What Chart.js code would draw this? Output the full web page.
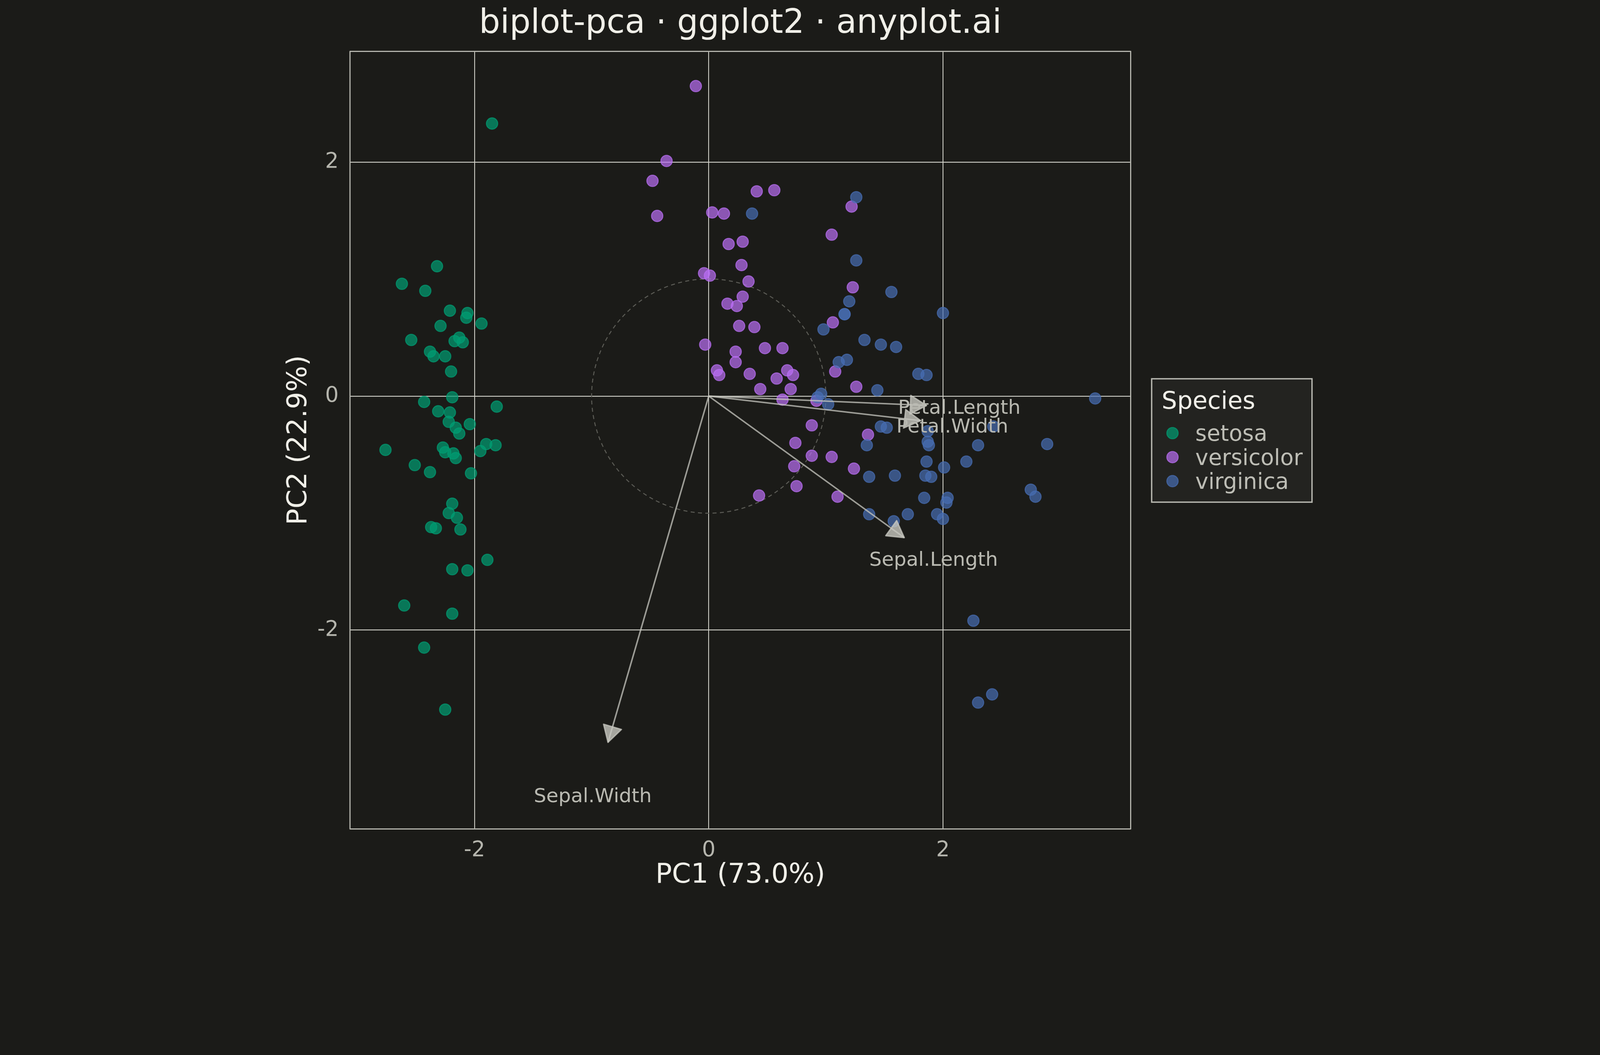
<!DOCTYPE html>
<html>
<head>
<meta charset="utf-8">
<title>biplot-pca</title>
<script src="https://cdn.jsdelivr.net/npm/chart.js@4.4.1/dist/chart.umd.min.js"></script>
<style>
  html, body { margin: 0; padding: 0; background: #1b1b18; width: 100vw; height: 100vh; overflow: hidden; }
  canvas { display: block; }
</style>
</head>
<body>
<canvas id="biplot"></canvas>
<script>
//#####################
// Data
//#####################
const species = ['setosa', 'versicolor', 'virginica'];

const setosaPC1 = [-1.85, -2.32, -2.62, -2.42, -2.21, -2.06, -2.07, -1.94, -2.29, -2.54,
  -2.13, -2.17, -2.10, -2.38, -2.35, -2.25, -2.20, -2.19, -2.43, -1.81,
  -2.31, -2.21, -2.22, -2.16, -2.04, -2.13, -2.76, -2.27, -2.25, -2.18,
  -2.16, -1.90, -1.82, -1.95, -2.51, -2.38, -2.03, -2.19, -2.22, -2.15,
  -2.37, -2.33, -2.12, -1.89, -2.19, -2.06, -2.60, -2.19, -2.43, -2.25];
const setosaPC2 = [2.33, 1.11, 0.96, 0.90, 0.73, 0.71, 0.67, 0.62, 0.60, 0.48,
  0.50, 0.47, 0.46, 0.38, 0.34, 0.34, 0.21, -0.01, -0.05, -0.09,
  -0.13, -0.14, -0.22, -0.27, -0.24, -0.32, -0.46, -0.44, -0.48, -0.49,
  -0.53, -0.41, -0.42, -0.47, -0.59, -0.65, -0.66, -0.92, -1.00, -1.04,
  -1.12, -1.13, -1.14, -1.40, -1.48, -1.49, -1.79, -1.86, -2.15, -2.68];

const versicolorPC1 = [-0.11, -0.36, -0.48, -0.44, 0.03, 0.13, 0.41, 0.56, 1.22, 1.05,
  0.17, 0.29, 0.28, -0.04, 0.01, 0.34, 1.23, 0.29, 0.16, 0.24,
  1.06, 0.26, 0.39, -0.03, 0.23, 0.48, 0.63, 0.23, 0.07, 0.09,
  0.35, 0.67, 0.72, 0.58, 0.44, 0.70, 0.63, 1.08, 1.26, 0.92,
  0.88, 1.36, 0.74, 0.88, 1.05, 0.73, 1.24, 0.75, 0.43, 1.10];
const versicolorPC2 = [2.65, 2.01, 1.84, 1.54, 1.57, 1.56, 1.75, 1.76, 1.62, 1.38,
  1.30, 1.32, 1.12, 1.05, 1.03, 0.98, 0.93, 0.85, 0.79, 0.77,
  0.63, 0.60, 0.59, 0.44, 0.38, 0.41, 0.41, 0.29, 0.22, 0.18,
  0.19, 0.22, 0.18, 0.15, 0.06, 0.06, -0.03, 0.21, 0.08, -0.04,
  -0.25, -0.33, -0.40, -0.51, -0.52, -0.60, -0.62, -0.77, -0.85, -0.86];

const virginicaPC1 = [0.37, 1.26, 1.26, 1.20, 1.16, 1.16, 0.98, 1.33, 1.47, 1.11,
  1.18, 1.44, 0.96, 0.93, 1.02, 1.47, 1.35, 1.37, 1.37, 1.56,
  2.00, 1.60, 1.79, 1.86, 1.52, 1.87, 1.87, 1.88, 2.43, 2.30,
  2.89, 1.59, 1.86, 2.01, 2.20, 1.85, 1.90, 2.75, 2.79, 1.84,
  2.04, 2.03, 1.58, 1.70, 1.95, 2.00, 3.30, 2.26, 2.30, 2.42];
const virginicaPC2 = [1.56, 1.70, 1.16, 0.81, 0.70, 0.70, 0.57, 0.48, 0.44, 0.29,
  0.31, 0.05, 0.02, -0.01, -0.07, -0.26, -0.42, -0.69, -1.01, 0.89,
  0.71, 0.42, 0.19, 0.18, -0.27, -0.30, -0.39, -0.42, -0.26, -0.42,
  -0.41, -0.68, -0.56, -0.61, -0.56, -0.68, -0.69, -0.80, -0.86, -0.87,
  -0.87, -0.91, -1.07, -1.01, -1.01, -1.05, -0.02, -1.92, -2.62, -2.55];

// loading arrows: tip and label position
const loadingNames = ['Sepal.Length', 'Sepal.Width', 'Petal.Length', 'Petal.Width'];
const loadingPC1 = [1.67, -0.86, 1.86, 1.81];
const loadingPC2 = [-1.21, -2.96, -0.08, -0.21];
const labelPC1 = [1.92, -0.99, 2.14, 2.08];
const labelPC2 = [-1.39, -3.41, -0.09, -0.25];

const xTicks = [-2, 0, 2];
const yTicks = [-2, 0, 2];

const titleText = 'biplot-pca · ggplot2 · anyplot.ai';
const xTitle = 'PC1 (73.0%)';
const yTitle = 'PC2 (22.9%)';
const legendTitle = 'Species';

//#####################
// Styles (laid out on a 4800x2700 design, scaled to the window)
//#####################
const k = Math.min(window.innerWidth / 4800, window.innerHeight / 2700);
const px = (v) => v * k;

const FONT = "'DejaVu Sans', 'Liberation Sans', sans-serif";
const speciesColors = ['rgba(0,158,115,0.7)', 'rgba(187,111,245,0.7)', 'rgba(71,110,180,0.7)'];
const arrowColor = 'rgba(200,200,192,0.75)';
const circleRadius = 1;

const toPoints = (xs, ys) => xs.map((x, i) => ({x: x, y: ys[i]}));

const pointSets = [
  toPoints(setosaPC1, setosaPC2),
  toPoints(versicolorPC1, versicolorPC2),
  toPoints(virginicaPC1, virginicaPC2)
];

const datasets = [];
// arrows drawn above the points (lower order = on top)
for (let i = 0; i < loadingNames.length; i++) {
  datasets.push({
    label: loadingNames[i],
    data: [{x: 0, y: 0}, {x: loadingPC1[i], y: loadingPC2[i]}],
    showLine: true,
    borderColor: arrowColor,
    borderWidth: px(4.5),
    pointRadius: 0,
    fill: false,
    order: 0
  });
}
for (let i = 0; i < species.length; i++) {
  datasets.push({
    label: species[i],
    data: pointSets[i],
    backgroundColor: speciesColors[i],
    borderColor: speciesColors[i],
    borderWidth: px(3),
    pointRadius: px(17),
    order: species.length - i
  });
}

//#####################
// Plugins
//#####################
const dashedCircle = {
  id: 'dashedCircle',
  beforeDatasetsDraw(chart) {
    const {ctx, scales: {x, y}} = chart;
    const cx = x.getPixelForValue(0);
    const cy = y.getPixelForValue(0);
    const r = x.getPixelForValue(circleRadius) - cx;
    ctx.save();
    ctx.strokeStyle = '#5b5b55';
    ctx.lineWidth = px(3);
    ctx.setLineDash([px(12), px(10)]);
    ctx.beginPath();
    ctx.arc(cx, cy, r, 0, Math.PI * 2);
    ctx.stroke();
    ctx.restore();
  }
};

const arrowExtras = {
  id: 'arrowExtras',
  afterDatasetsDraw(chart) {
    const {ctx, chartArea, scales: {x, y}} = chart;
    const ox = x.getPixelForValue(0);
    const oy = y.getPixelForValue(0);
    const side = px(56);
    const half = Math.PI / 6;
    ctx.save();
    for (let i = 0; i < loadingNames.length; i++) {
      const tx = x.getPixelForValue(loadingPC1[i]);
      const ty = y.getPixelForValue(loadingPC2[i]);
      const ang = Math.atan2(ty - oy, tx - ox);
      ctx.beginPath();
      ctx.moveTo(tx, ty);
      ctx.lineTo(tx - side * Math.cos(ang - half), ty - side * Math.sin(ang - half));
      ctx.lineTo(tx - side * Math.cos(ang + half), ty - side * Math.sin(ang + half));
      ctx.closePath();
      ctx.fillStyle = 'rgba(200,200,192,0.8)';
      ctx.strokeStyle = arrowColor;
      ctx.lineWidth = px(4);
      ctx.lineJoin = 'round';
      ctx.fill();
      ctx.stroke();
    }
    ctx.fillStyle = '#b9b9b1';
    ctx.font = px(59) + 'px ' + FONT;
    ctx.textAlign = 'center';
    ctx.textBaseline = 'middle';
    for (let i = 0; i < loadingNames.length; i++) {
      ctx.fillText(loadingNames[i], x.getPixelForValue(labelPC1[i]), y.getPixelForValue(labelPC2[i]) + px(6));
    }
    // panel border
    ctx.strokeStyle = '#b4b4ac';
    ctx.lineWidth = px(3.5);
    ctx.strokeRect(chartArea.left, chartArea.top, chartArea.right - chartArea.left, chartArea.bottom - chartArea.top);
    ctx.restore();
  }
};

const speciesLegend = {
  id: 'speciesLegend',
  afterDraw(chart) {
    const ctx = chart.ctx;
    const bx = px(3453), by = px(1134), bw = px(485), bh = px(374);
    ctx.save();
    ctx.fillStyle = '#232320';
    ctx.fillRect(bx, by, bw, bh);
    ctx.strokeStyle = '#b8b8b0';
    ctx.lineWidth = px(4);
    ctx.strokeRect(bx + px(2), by + px(2), bw - px(4), bh - px(4));
    ctx.textBaseline = 'alphabetic';
    ctx.textAlign = 'left';
    ctx.fillStyle = '#f0efe8';
    ctx.font = px(73) + 'px ' + FONT;
    ctx.fillText(legendTitle, px(3485), px(1226));
    ctx.font = px(66) + 'px ' + FONT;
    for (let i = 0; i < species.length; i++) {
      const cy = px(1299 + i * 72);
      ctx.beginPath();
      ctx.arc(px(3517.5), cy, px(17), 0, Math.PI * 2);
      ctx.fillStyle = speciesColors[i];
      ctx.fill();
      ctx.strokeStyle = speciesColors[i];
      ctx.lineWidth = px(3);
      ctx.stroke();
      ctx.fillStyle = '#bdbdb5';
      ctx.fillText(species[i], px(3586), cy + px(23));
    }
    ctx.restore();
  }
};

//#####################
// Chart
//#####################
const chartCanvas = document.getElementById('biplot');
chartCanvas.width = Math.round(px(4800));
chartCanvas.height = Math.round(px(2700));

const myChart = new Chart(chartCanvas, {
  type: 'scatter',
  data: {datasets: datasets},
  plugins: [dashedCircle, arrowExtras, speciesLegend],
  options: {
    responsive: false,
    animation: false,
    devicePixelRatio: window.devicePixelRatio || 1,
    events: [],
    layout: {padding: {left: px(800), right: px(1408), top: 0, bottom: 0}},
    plugins: {
      legend: {display: false},
      tooltip: {enabled: false},
      title: {
        display: true,
        text: titleText,
        color: '#f0efe8',
        fullSize: false,
        font: {family: FONT, size: px(100), weight: 'normal'},
        padding: {top: px(12), bottom: px(22)}
      }
    },
    scales: {
      x: {
        type: 'linear',
        min: -3.063,
        max: 3.603,
        afterBuildTicks: (s) => { s.ticks = xTicks.map(v => ({value: v})); },
        afterFit: (s) => { s.height = px(214); },
        grid: {color: '#d2d2ca', lineWidth: px(2.5), drawTicks: false},
        border: {display: false},
        ticks: {
          color: '#b5b5ad',
          padding: px(27),
          font: {family: FONT, size: px(64)},
          callback: (v) => String(v)
        },
        title: {
          display: true,
          text: xTitle,
          color: '#f0efe8',
          font: {family: FONT, size: px(82)},
          padding: {top: 0, bottom: px(25)}
        }
      },
      y: {
        type: 'linear',
        min: -3.70,
        max: 2.947,
        afterBuildTicks: (s) => { s.ticks = yTicks.map(v => ({value: v})); },
        afterFit: (s) => { s.width = px(250); },
        grid: {color: '#d2d2ca', lineWidth: px(2.5), drawTicks: false},
        border: {display: false},
        ticks: {
          color: '#b5b5ad',
          padding: px(34),
          font: {family: FONT, size: px(64)},
          callback: (v) => String(v)
        },
        title: {
          display: true,
          text: yTitle,
          color: '#f0efe8',
          font: {family: FONT, size: px(82)},
          padding: {top: px(48), bottom: 0}
        }
      }
    }
  }
});
</script>
</body>
</html>
